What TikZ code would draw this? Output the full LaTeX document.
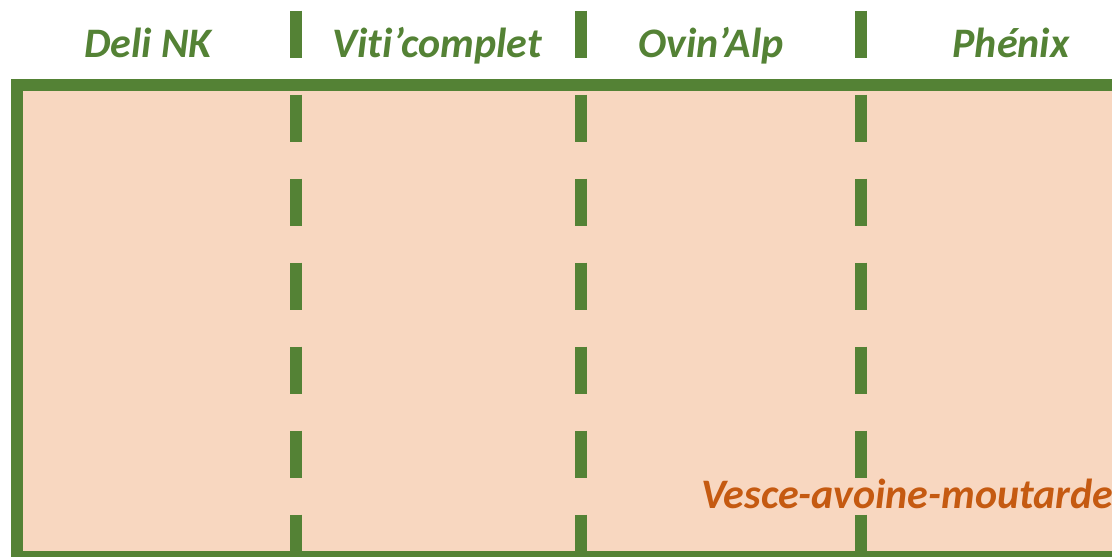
\documentclass[tikz,border=0pt]{standalone}
\usepackage{fontspec}
\setmainfont{Carlito}[Ligatures=NoCommon]
\definecolor{cgreen}{HTML}{548235}
\definecolor{cfill}{HTML}{F8D7C0}
\definecolor{corange}{HTML}{C55A11}
\begin{document}
\begin{tikzpicture}[x=1pt,y=-1pt,
  divider/.style={draw=cgreen,line width=12pt,dash pattern=on 47.6pt off 36.4pt},
  head/.style={inner sep=0pt,anchor=base,text=cgreen,font=\fontsize{42}{44}\selectfont\bfseries\itshape},
  cover/.style={inner sep=0pt,anchor=base west,text=corange,font=\fontsize{42}{44}\selectfont\bfseries\itshape}]
\useasboundingbox (0,0) rectangle (1112,557);
\clip (0,0) rectangle (1112,557);
\draw[cgreen,line width=12pt,fill=cfill] (17,84.5) rectangle (1175,556.5);
\coordinate (t1) at (296,10.7); \coordinate (b1) at (296,550.5);
\coordinate (t2) at (581,10.7); \coordinate (b2) at (581,550.5);
\coordinate (t3) at (861,10.7); \coordinate (b3) at (861,550.5);
\draw[divider] (t1) -- (b1);
\draw[divider] (t2) -- (b2);
\draw[divider] (t3) -- (b3);
\node[head] (deli) at (148,57) {Deli NK};
\node[head] (viti) at (437,57) {Viti’complet};
\node[head] (ovin) at (711,57) {Ovin’Alp};
\node[head] (phen) at (1011,57) {Phénix};
\node[cover] (vesce) at (701,508) {Vesce-avoine-moutarde};
\end{tikzpicture}
\end{document}
